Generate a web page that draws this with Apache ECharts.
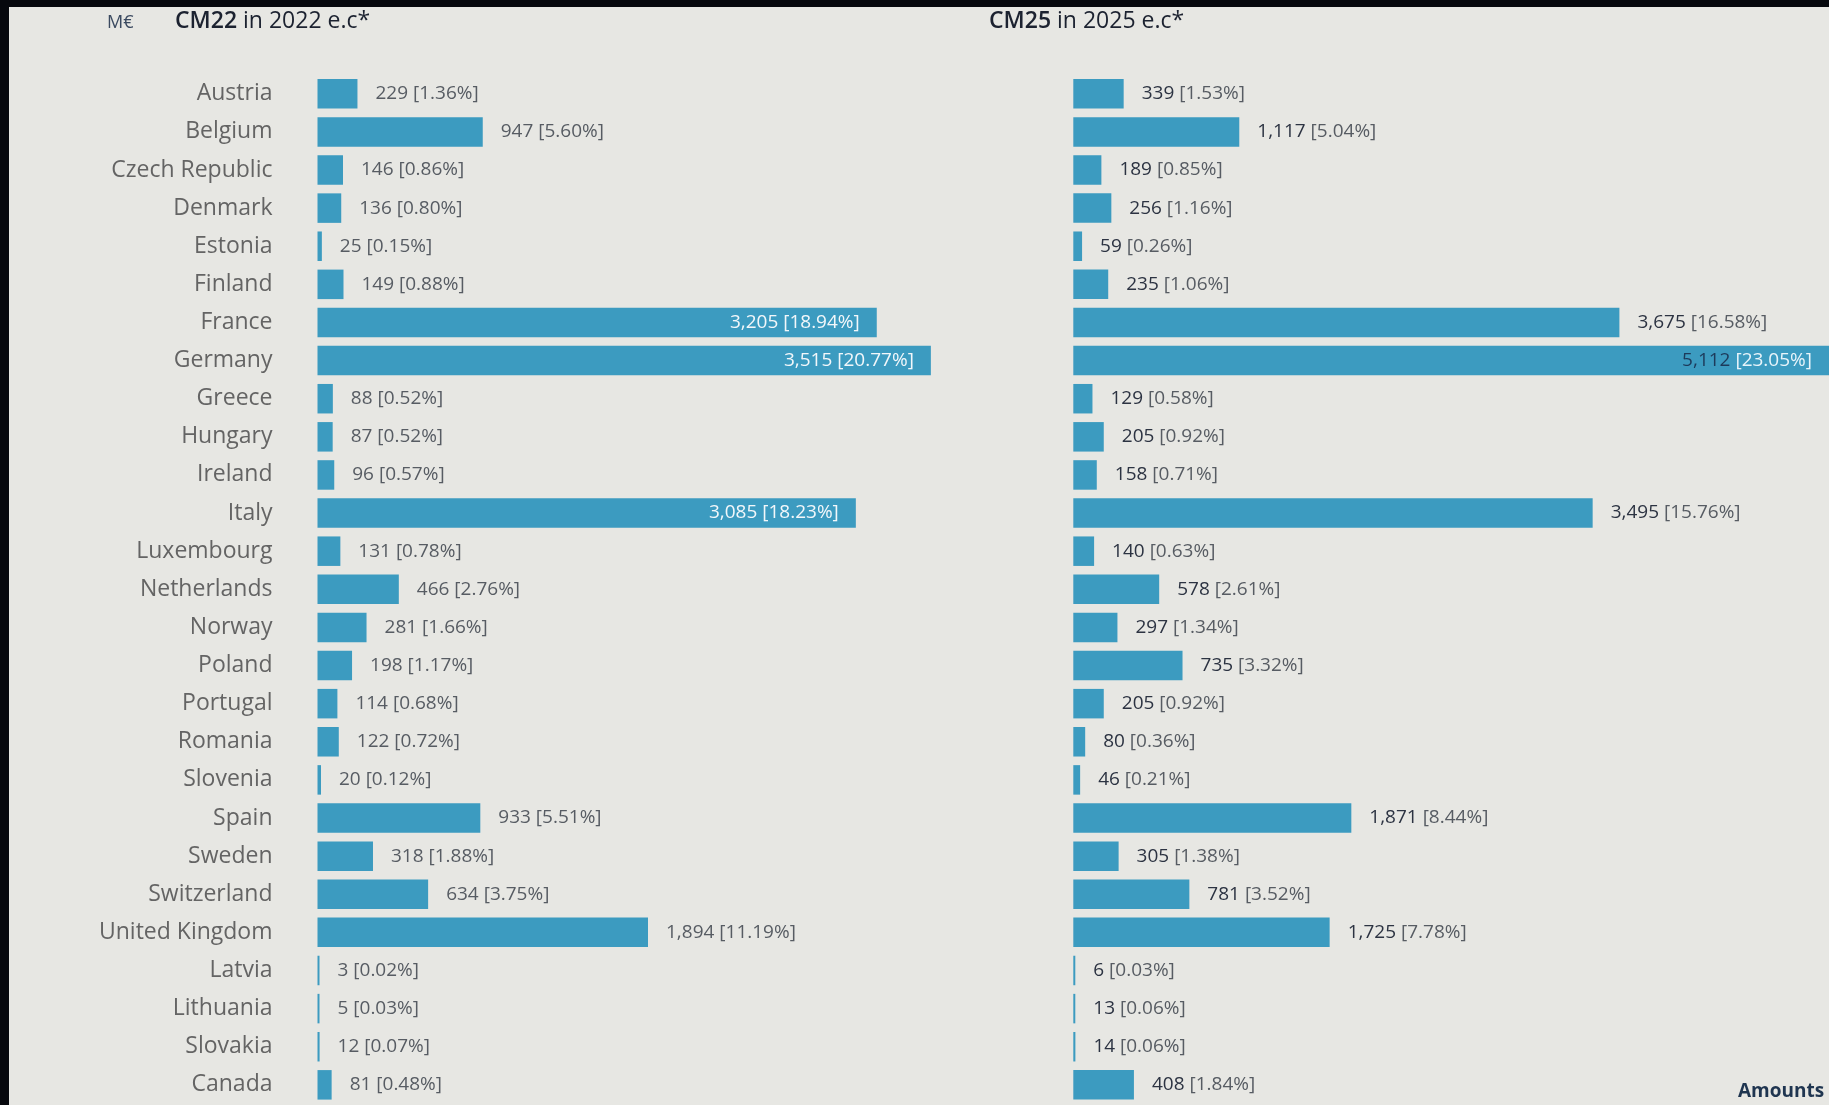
<!DOCTYPE html>
<html>
<head>
<meta charset="utf-8">
<script src="https://cdn.jsdelivr.net/npm/echarts@6/dist/echarts.min.js"></script>
<style>
  html, body { margin: 0; padding: 0; background: #06080d; overflow: hidden; }
  #chart { width: 1829px; height: 1105px; }
</style>
</head>
<body>
<div id="chart"></div>
<script>
const countries = ['Austria','Belgium','Czech Republic','Denmark','Estonia','Finland','France','Germany','Greece','Hungary','Ireland','Italy','Luxembourg','Netherlands','Norway','Poland','Portugal','Romania','Slovenia','Spain','Sweden','Switzerland','United Kingdom','Latvia','Lithuania','Slovakia','Canada'];
const cm22Values = [229,947,146,136,25,149,3205,3515,88,87,96,3085,131,466,281,198,114,122,20,933,318,634,1894,3,5,12,81];
const cm22Shares = ['1.36','5.60','0.86','0.80','0.15','0.88','18.94','20.77','0.52','0.52','0.57','18.23','0.78','2.76','1.66','1.17','0.68','0.72','0.12','5.51','1.88','3.75','11.19','0.02','0.03','0.07','0.48'];
const cm25Values = [339,1117,189,256,59,235,3675,5112,129,205,158,3495,140,578,297,735,205,80,46,1871,305,781,1725,6,13,14,408];
const cm25Shares = ['1.53','5.04','0.85','1.16','0.26','1.06','16.58','23.05','0.58','0.92','0.71','15.76','0.63','2.61','1.34','3.32','0.92','0.36','0.21','8.44','1.38','3.52','7.78','0.03','0.06','0.06','1.84'];

const FONT = '"Open Sans", "Noto Sans", sans-serif';
const BAR = '#3c9bc0';
const fmt = v => v.toLocaleString('en-US');

function buildData(values, shares, insideMin, insideRich) {
  return values.map((v, i) => {
    const inside = v > insideMin;
    return {
      value: v,
      label: {
        position: inside ? 'insideRight' : 'right',
        distance: inside ? 17 : 18,
        formatter: inside ? '{' + insideRich[0] + '|' + fmt(v) + '} {' + insideRich[1] + '|[' + shares[i] + '%]}'
                          : '{n|' + fmt(v) + '} {p|[' + shares[i] + '%]}'
      }
    };
  });
}

const chart = echarts.init(document.getElementById('chart'), null, { renderer: 'canvas' });
const gridTop = 74.7, gridH = 1029.2;
const leftScale = 0.1745, rightScale = 0.1486;
const rightLeft = 1073.3, rightWidth = 1829 - 1073.3;
const titleRich = {
  b: { font: '600 23px ' + FONT, fill: '#1c2230' },
  r: { font: '23px ' + FONT, fill: '#1c2230' }
};
const option = {
  backgroundColor: '#06080d',
  animation: false,
  graphic: [
    { type: 'rect', left: 9, top: 7, shape: { width: 1829, height: 1105 }, style: { fill: '#e7e7e3' }, z: -10 },
    { type: 'text', x: 107, y: 23, style: { text: 'M€', font: '18px ' + FONT, fill: '#3b4a60', verticalAlign: 'middle' } },
    { type: 'text', x: 175, y: 21, style: { text: '{b|CM22}{r| in 2022 e.c*}', rich: titleRich, verticalAlign: 'middle' } },
    { type: 'text', x: 989, y: 21, style: { text: '{b|CM25}{r| in 2025 e.c*}', rich: titleRich, verticalAlign: 'middle' } },
    { type: 'text', x: 1738, y: 1092, style: { text: 'Amounts', font: 'bold 19px ' + FONT, fill: '#1f3550', verticalAlign: 'middle' } }
  ],
  grid: [
    { left: 317.5, top: gridTop, width: 4000 * leftScale, height: gridH },
    { left: rightLeft, top: gridTop, width: rightWidth, height: gridH }
  ],
  xAxis: [
    { type: 'value', gridIndex: 0, min: 0, max: 4000, show: false },
    { type: 'value', gridIndex: 1, min: 0, max: rightWidth / rightScale, show: false }
  ],
  yAxis: [
    { type: 'category', gridIndex: 0, data: countries, inverse: true,
      axisLine: { show: false }, axisTick: { show: false },
      axisLabel: { margin: 45, fontFamily: FONT, fontSize: 23, color: '#646464' } },
    { type: 'category', gridIndex: 1, data: countries, inverse: true,
      axisLine: { show: false }, axisTick: { show: false }, axisLabel: { show: false } }
  ],
  series: [
    { type: 'bar', xAxisIndex: 0, yAxisIndex: 0, barCategoryGap: '22.6%', barMinHeight: 2,
      itemStyle: { color: BAR },
      label: { show: true, fontFamily: FONT, fontSize: 19,
        rich: {
          n: { fontFamily: FONT, fontSize: 19, color: '#575c63' },
          p: { fontFamily: FONT, fontSize: 19, color: '#575c63' },
          wn: { fontFamily: FONT, fontSize: 19, color: '#f2f7fa' },
          wp: { fontFamily: FONT, fontSize: 19, color: '#f2f7fa' }
        } },
      data: buildData(cm22Values, cm22Shares, 3000, ['wn', 'wp']) },
    { type: 'bar', xAxisIndex: 1, yAxisIndex: 1, barCategoryGap: '22.6%', barMinHeight: 2,
      itemStyle: { color: BAR },
      label: { show: true, fontFamily: FONT, fontSize: 19,
        rich: {
          n: { fontFamily: FONT, fontSize: 19, color: '#2c3342' },
          p: { fontFamily: FONT, fontSize: 19, color: '#575c63' },
          dn: { fontFamily: FONT, fontSize: 19, color: '#1d3a5a' },
          wp: { fontFamily: FONT, fontSize: 19, color: '#e8f4fa' }
        } },
      data: buildData(cm25Values, cm25Shares, 4000, ['dn', 'wp']) }
  ]
};
chart.setOption(option);
</script>
</body>
</html>
